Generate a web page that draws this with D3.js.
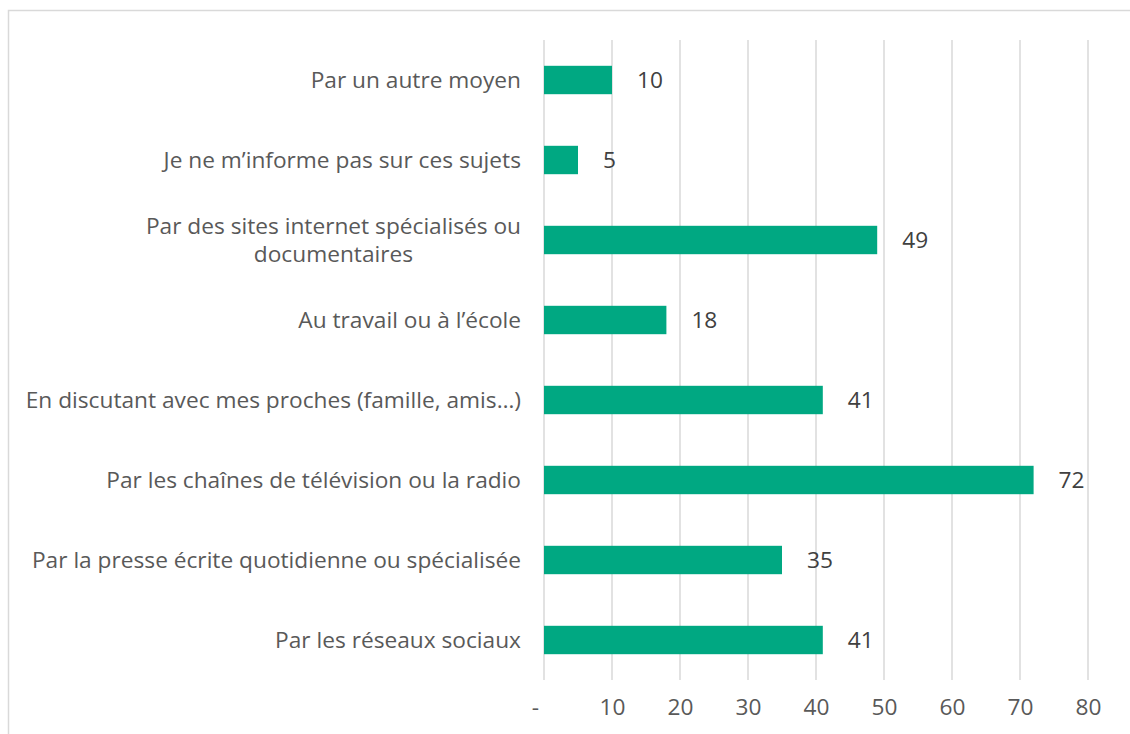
<!DOCTYPE html>
<html lang="fr">
<head>
<meta charset="utf-8">
<title>Sources d'information</title>
<script src="https://d3js.org/d3.v7.min.js"></script>
<style>
  body { margin: 0; background: #fff; }
  svg text { font-family: "Open Sans", "Noto Sans", sans-serif; }
</style>
</head>
<body>
<div id="chart"></div>
<script>
// categories, top to bottom
var categories = [
  "Par un autre moyen",
  "Je ne m’informe pas sur ces sujets",
  "Par des sites internet spécialisés ou\ndocumentaires",
  "Au travail ou à l’école",
  "En discutant avec mes proches (famille, amis…)",
  "Par les chaînes de télévision ou la radio",
  "Par la presse écrite quotidienne ou spécialisée",
  "Par les réseaux sociaux"
];
var values = [10, 5, 49, 18, 41, 72, 35, 41];
var tickValues = [0, 10, 20, 30, 40, 50, 60, 70, 80];
var tickLabels = ["-", "10", "20", "30", "40", "50", "60", "70", "80"];

var width = 1130, height = 734;
var margin = {top: 40, right: 42, bottom: 54, left: 544};
var fontSize = "22.7px";

var svg = d3.select("#chart").append("svg")
  .attr("width", width)
  .attr("height", height);

// chart area border
svg.append("rect")
  .attr("x", 8.5).attr("y", 10.5)
  .attr("width", width).attr("height", height)
  .attr("fill", "none")
  .attr("stroke", "#d9d9d9")
  .attr("stroke-width", 1.5);

var x = d3.scaleLinear()
  .domain([0, 80])
  .range([margin.left, width - margin.right]);

var y = d3.scaleBand()
  .domain(categories)
  .range([margin.top, height - margin.bottom])
  .paddingInner(0.645)
  .paddingOuter(0.3225);

// gridlines
svg.append("g")
  .selectAll("line")
  .data(tickValues)
  .join("line")
  .attr("x1", d => x(d)).attr("x2", d => x(d))
  .attr("y1", margin.top).attr("y2", height - margin.bottom)
  .attr("stroke", "#d9d9d9")
  .attr("stroke-width", 1.5);

// x tick labels
var xAxis = d3.axisBottom(x)
  .tickValues(tickValues)
  .tickFormat((d, i) => tickLabels[i])
  .tickSize(0)
  .tickPadding(0);

var gx = svg.append("g")
  .attr("transform", `translate(0, ${height - margin.bottom + 19})`)
  .call(xAxis);
gx.select(".domain").remove();
gx.selectAll("text")
  .attr("fill", "#595959")
  .style("font-size", fontSize)
  .style("font-family", "\"Open Sans\", sans-serif")
  .attr("dx", (d, i) => i === 0 ? -9 : 0);

// bars
svg.append("g")
  .selectAll("rect")
  .data(values)
  .join("rect")
  .attr("x", x(0))
  .attr("y", (d, i) => y(categories[i]))
  .attr("width", d => x(d) - x(0))
  .attr("height", y.bandwidth())
  .attr("fill", "#00a882");

// value labels
svg.append("g")
  .selectAll("text")
  .data(values)
  .join("text")
  .attr("x", d => x(d) + 25)
  .attr("y", (d, i) => y(categories[i]) + y.bandwidth() / 2)
  .attr("dy", "0.35em")
  .attr("fill", "#404040")
  .style("font-size", fontSize)
  .text(d => d);

// category labels (multi-line centred as a block, right aligned)
var labelRight = margin.left - 23;
svg.append("g")
  .selectAll("g")
  .data(categories)
  .join("g")
  .each(function(d) {
    var lines = d.split("\n");
    var g = d3.select(this);
    var cy = y(d) + y.bandwidth() / 2;
    var lh = 28;
    var t = g.append("text")
      .attr("fill", "#595959")
      .style("font-size", fontSize)
      .attr("text-anchor", lines.length > 1 ? "middle" : "end");
    lines.forEach(function(l, i) {
      t.append("tspan")
        .attr("x", labelRight)
        .attr("y", cy + (i - (lines.length - 1) / 2) * lh)
        .attr("dy", "0.35em")
        .text(l);
    });
    if (lines.length > 1) {
      // centre block, then align its right edge
      var w = t.node().getBBox().width;
      t.selectAll("tspan").attr("x", labelRight - w / 2);
    }
  });
</script>
</body>
</html>
